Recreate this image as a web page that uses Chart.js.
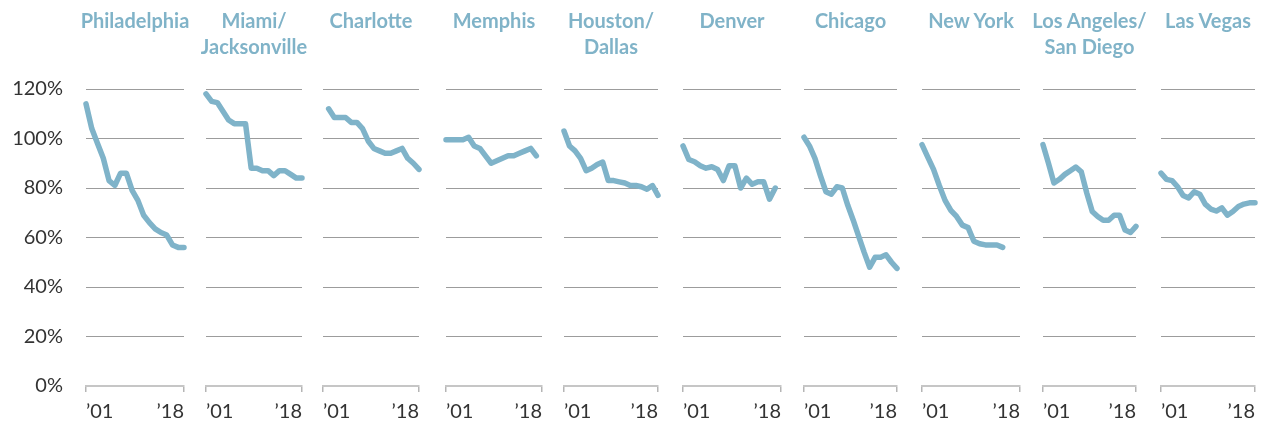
<!DOCTYPE html>
<html>
<head>
<meta charset="utf-8">
<script src="https://cdn.jsdelivr.net/npm/chart.js@4.4.1/dist/chart.umd.min.js"></script>
<style>
  body { margin: 0; background: #fff; }
  #wrap { position: relative; width: 1265px; height: 425px; overflow: hidden; }
  .panel { position: absolute; top: 0; height: 425px; }
  .title { position: absolute; top: 7px; width: 170px; text-align: center;
           font: bold 20px/26px Lato, sans-serif; color: #80b3c8; white-space: nowrap; }
</style>
</head>
<body>
<div id="wrap"></div>
<script>
// years on the x axis, only the first and last get a label
const years = [2001, 2002, 2003, 2004, 2005, 2006, 2007, 2008, 2009, 2010, 2011, 2012, 2013, 2014, 2015, 2016, 2017, 2018];
const xTickLabels = ['\u201901', '\u201918'];
const yTickValues = [0, 20, 40, 60, 80, 100, 120];

const cityNames = [
    ['Philadelphia'], ['Miami/', 'Jacksonville'], ['Charlotte'], ['Memphis'], ['Houston/', 'Dallas'],
    ['Denver'], ['Chicago'], ['New York'], ['Los Angeles/', 'San Diego'], ['Las Vegas']
];

const philadelphia = [114, 104, 98, 92, 83, 81, 86, 86, 79, 75, 69, 66, 63.5, 62, 61, 57, 56, 56];
const miami = [118, 115, 114.5, 111, 107.5, 106, 106, 106, 88, 88, 87, 87, 85, 87, 87, 85.5, 84, 84];
const charlotte = [null, 112, 108.5, 108.5, 108.5, 106.5, 106.5, 104, 99, 96, 95, 94, 94, 95, 96, 92, 90, 87.5];
const memphis = [99.5, 99.5, 99.5, 99.5, 100.5, 97, 96, 93, 90, 91, 92, 93, 93, 94, 95, 96, 93, null];
const houston = [103, 97, 95, 92, 87, 88, 89.5, 90.5, 83, 83, 82.5, 82, 81, 81, 80.5, 79.5, 81, 77];
const denver = [97, 91.5, 90.6, 89, 88, 88.6, 87.5, 83, 89, 89, 80, 84, 81.5, 82.5, 82.5, 75.5, 80, null];
const chicago = [100.5, 97, 92, 85, 78.5, 77.5, 80.5, 80, 73, 67, 60.5, 54, 48, 52, 52, 53, 50, 47.5];
const newYork = [97.5, 92.5, 87.5, 81, 75, 71, 68.5, 65, 64, 58.5, 57.5, 57, 57, 57, 56, null, null, null];
const losAngeles = [97.5, 90, 82, 83.5, 85.5, 87, 88.5, 86.5, 78, 70.5, 68.5, 67, 67, 69, 69, 63, 62, 64.5];
const lasVegas = [86, 83.5, 83, 80.5, 77, 76, 78.5, 77.5, 73.5, 71.5, 70.7, 72, 69, 70.5, 72.5, 73.5, 74, 74];

const seriesList = [philadelphia, miami, charlotte, memphis, houston, denver, chicago, newYork, losAngeles, lasVegas];

// plot area edges of each small panel, in page pixels
const plotLeft = [86, 206, 323, 446, 564, 683, 804, 922, 1043, 1161];
const plotRight = [184, 302, 419, 542, 658, 781, 897, 1020, 1136, 1255];

const lineColor = '#7fb3c9';
const textColor = '#333';
const wrap = document.getElementById('wrap');

seriesList.forEach((values, i) => {
    const first = i === 0;
    const padL = first ? 0 : 8;
    const padR = 8;
    const left = first ? 0 : plotLeft[i] - padL;
    const yWidth = first ? plotLeft[0] : 0;
    const width = plotRight[i] - left + padR;

    const box = document.createElement('div');
    box.className = 'panel';
    box.style.left = left + 'px';
    box.style.width = width + 'px';
    const canvas = document.createElement('canvas');
    canvas.width = width;
    canvas.height = 425;
    box.appendChild(canvas);
    wrap.appendChild(box);

    const title = document.createElement('div');
    title.className = 'title';
    title.style.left = ((plotLeft[i] + plotRight[i]) / 2 - 85) + 'px';
    title.innerHTML = cityNames[i].join('<br>');
    wrap.appendChild(title);

    const last = years.length - 1;
    new Chart(canvas.getContext('2d'), {
        type: 'line',
        data: {
            labels: years,
            datasets: [{
                data: values,
                borderColor: lineColor,
                borderWidth: 5.5,
                borderCapStyle: 'round',
                borderJoinStyle: 'round',
                pointRadius: 0,
                tension: 0,
                clip: false
            }]
        },
        options: {
            responsive: false,
            animation: false,
            layout: { padding: { left: padL, right: padR, top: 89, bottom: 0 } },
            plugins: { legend: { display: false }, tooltip: { enabled: false } },
            scales: {
                x: {
                    type: 'category',
                    afterFit: s => { s.height = 39; },
                    border: { display: true, color: '#c6c6c6', width: 2 },
                    grid: {
                        drawOnChartArea: false,
                        drawTicks: true,
                        tickLength: 6,
                        lineWidth: 1.5,
                        color: c => (c.index === 0 || c.index === last) ? '#b5b5b5' : 'rgba(0,0,0,0)'
                    },
                    ticks: {
                        autoSkip: false,
                        maxRotation: 0,
                        align: 'inner',
                        padding: 8,
                        color: textColor,
                        font: { family: 'Lato', size: 20 },
                        callback: (v, idx) => idx === 0 ? xTickLabels[0] : (idx === last ? xTickLabels[1] : '')
                    }
                },
                y: {
                    min: yTickValues[0],
                    max: yTickValues[yTickValues.length - 1],
                    afterFit: s => { s.width = yWidth; },
                    afterBuildTicks: s => { s.ticks = yTickValues.map(v => ({ value: v })); },
                    border: { display: false },
                    grid: {
                        drawTicks: false,
                        lineWidth: 1,
                        color: c => c.tick.value === 0 ? 'rgba(0,0,0,0)' : '#9c9c9c'
                    },
                    ticks: {
                        display: first,
                        padding: 23,
                        color: textColor,
                        font: { family: 'Lato', size: 20 },
                        callback: v => v + '%'
                    }
                }
            }
        }
    });
});
</script>
</body>
</html>
